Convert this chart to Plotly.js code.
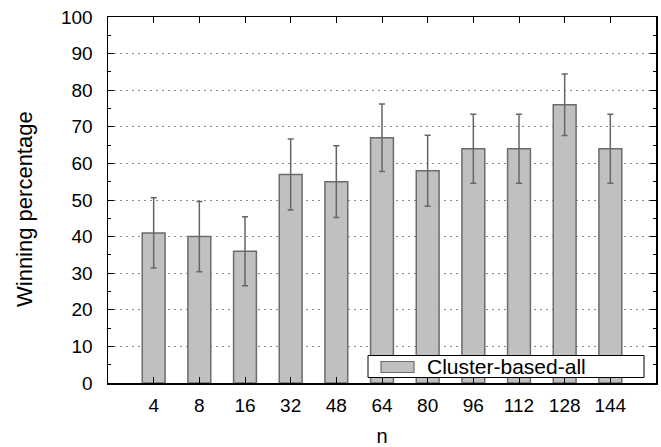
<!DOCTYPE html>
<html>
<head>
<meta charset="utf-8">
<script src="https://cdn.plot.ly/plotly-3.0.1.min.js"></script>
<style>html,body{margin:0;padding:0;background:#fff;}#chart{width:661px;height:447px;}</style>
</head>
<body>
<div id="chart"></div>
<script>
const categories = ["4", "8", "16", "32", "48", "64", "80", "96", "112", "128", "144"];
const winning = [41, 40, 36, 57, 55, 67, 58, 64, 64, 76, 64];
const errors = [9.6, 9.6, 9.4, 9.7, 9.8, 9.2, 9.7, 9.4, 9.4, 8.4, 9.4];
const seriesName = "Cluster-based-all";
const xTitle = "n";
const yTitle = "Winning percentage";

const barFill = '#c0c0c0';
const barLine = '#6c6c6c';

const trace = {
  type: 'bar',
  x: categories.map((c, i) => i),
  y: winning,
  name: seriesName,
  showlegend: false,
  width: 0.5,
  marker: {color: barFill, line: {color: barLine, width: 1.5}},
  error_y: {type: 'data', array: errors, visible: true, color: '#666666', thickness: 1.5, width: 3},
  hoverinfo: 'x+y'
};

// legend-only entry (its own symbol is invisible; the wide key swatch is a shape below)
const legendEntry = {
  type: 'scatter', mode: 'lines',
  x: [null], y: [null],
  name: seriesName,
  showlegend: true,
  line: {color: 'rgba(0,0,0,0)', width: 1},
  hoverinfo: 'skip'
};

const fam = 'Liberation Sans, Arial, sans-serif';
const W = 661, H = 447, mL = 108, mR = 5, mT = 17, mB = 64;
const pw = W - mL - mR, ph = H - mT - mB;
const px2x = p => (p - mL) / pw;
const px2y = p => (H - mB - p) / ph;

const layout = {
  width: W, height: H,
  margin: {l: mL, r: mR, t: mT, b: mB, pad: 0},
  paper_bgcolor: '#fff', plot_bgcolor: '#fff',
  font: {family: fam, size: 19, color: '#000'},
  showlegend: true,
  legend: {
    x: px2x(367), y: px2y(366.5), xanchor: 'left', yanchor: 'middle',
    borderwidth: 0, bgcolor: 'rgba(0,0,0,0)',
    font: {family: fam, size: 21, color: '#000'},
    itemwidth: 50
  },
  shapes: [
    {type: 'rect', xref: 'paper', yref: 'paper', layer: 'above',
     x0: px2x(368), x1: px2x(644), y0: px2y(377.5), y1: px2y(355.5),
     line: {color: '#000', width: 1}, fillcolor: '#fff'},
    {type: 'rect', xref: 'paper', yref: 'paper', layer: 'above',
     x0: px2x(381), x1: px2x(414), y0: px2y(372.5), y1: px2y(361.5),
     line: {color: barLine, width: 1.2}, fillcolor: barFill}
  ],
  annotations: [
    {text: yTitle, xref: 'paper', yref: 'paper', x: px2x(24), y: px2y(209),
     xanchor: 'center', yanchor: 'middle', textangle: -90, showarrow: false,
     font: {family: fam, size: 22, color: '#000'}}
  ],
  xaxis: {
    range: [-1, 11],
    automargin: false,
    tickmode: 'array',
    tickvals: categories.map((c, i) => i),
    ticktext: categories,
    showline: true, linecolor: '#000', linewidth: 1.5, mirror: 'ticks',
    ticks: 'inside', ticklen: 6, tickcolor: '#000', tickwidth: 1,
    ticklabelstandoff: 5,
    showgrid: false, zeroline: false,
    tickfont: {size: 19},
    title: {text: xTitle, font: {size: 20}, standoff: 17}
  },
  yaxis: {
    range: [0, 100],
    automargin: false,
    tickmode: 'linear', tick0: 0, dtick: 10,
    showline: true, linecolor: '#000', linewidth: 1.5, mirror: 'ticks',
    ticks: 'inside', ticklen: 6, tickcolor: '#000', tickwidth: 1,
    ticklabelstandoff: 10,
    minor: {dtick: 5, ticks: 'inside', ticklen: 3, tickcolor: '#000', showgrid: false},
    showgrid: true, gridcolor: '#8a8a8a', griddash: '2px,4px', gridwidth: 1,
    zeroline: false,
    tickfont: {size: 19}
  }
};

Plotly.newPlot('chart', [trace, legendEntry], layout, {displayModeBar: false, staticPlot: true});
</script>
</body>
</html>
